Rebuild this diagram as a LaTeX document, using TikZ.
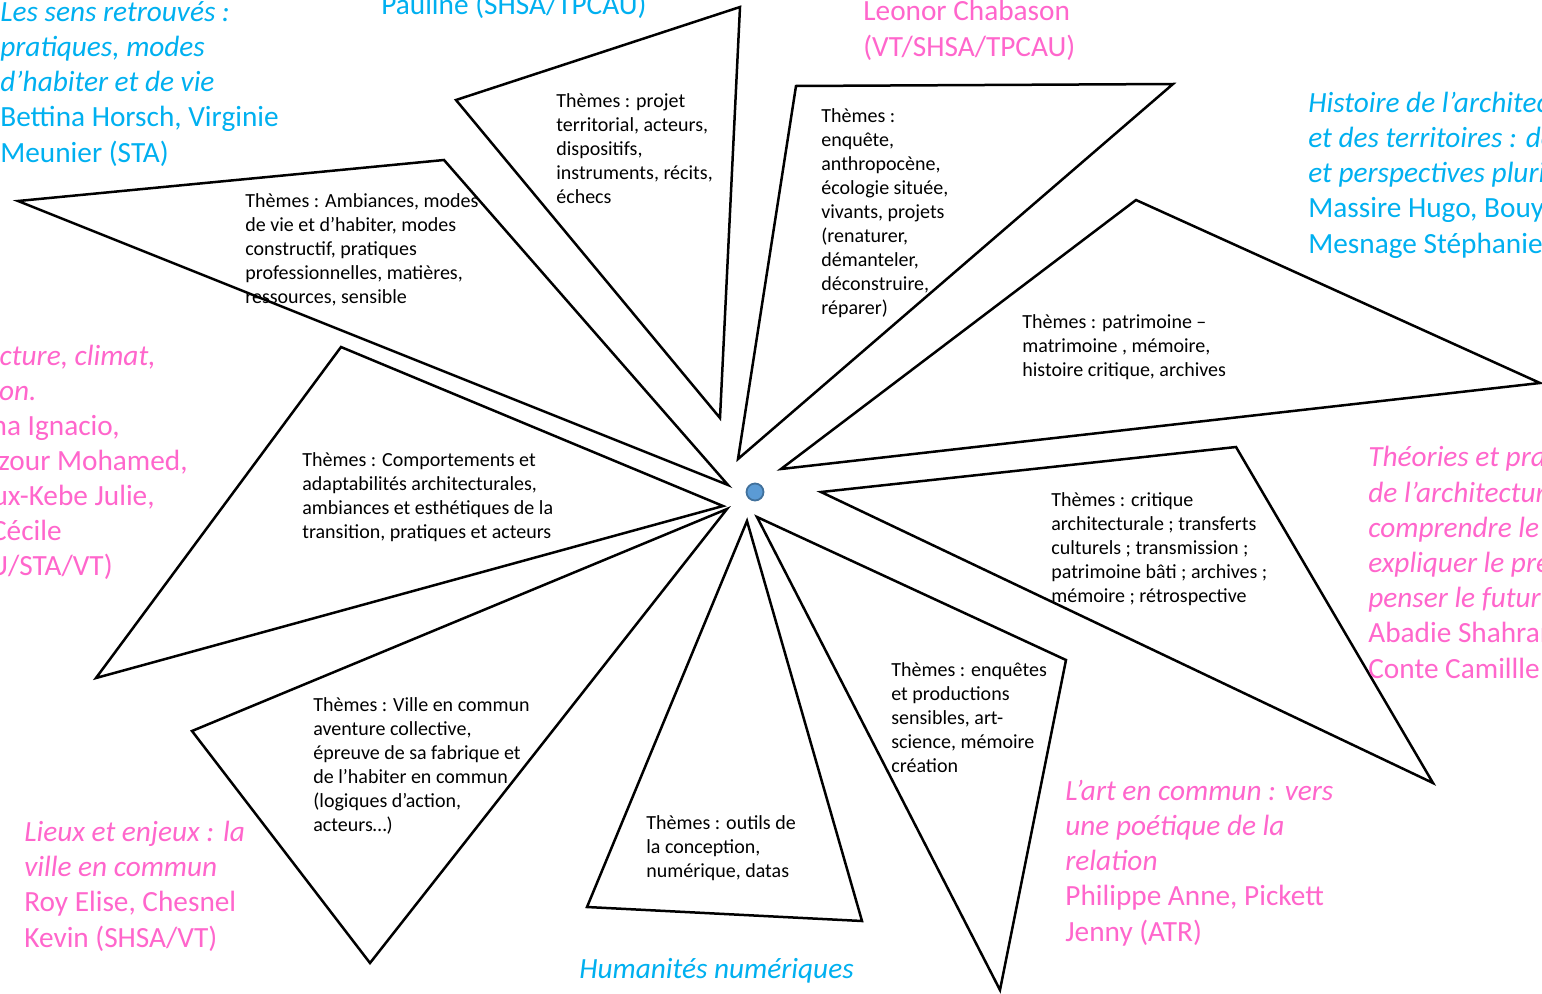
\documentclass[tikz,border=0pt]{standalone}
\usepackage{fontspec}
\setmainfont{Carlito}
\definecolor{cy}{HTML}{00B0F0}
\definecolor{pk}{HTML}{FF66CC}
\definecolor{dotfill}{HTML}{5B9BD5}
\definecolor{dotline}{HTML}{41719C}
\tikzset{
  tri/.style={draw=black, line width=1.4pt, line join=miter},
  theme/.style={anchor=base west, align=left, inner sep=0pt, font=\fontsize{11.2}{13.44}\selectfont},
  big/.style={anchor=base west, align=left, inner sep=0pt, font=\fontsize{16.4}{19.7}\selectfont},
  bigr/.style={anchor=base east, inner sep=0pt, font=\fontsize{16.4}{19.7}\selectfont},
  cytext/.style={text=cy},
  pktext/.style={text=pk},
}
\begin{document}
\begin{tikzpicture}[x=0.56pt, y=-0.56pt]
\useasboundingbox (0,0) rectangle (1542,993);
\clip (0,0) rectangle (1542,993);
\fill[white] (0,0) rectangle (1542,993);

\coordinate (c) at (755,492);

% triangles
\draw[tri] (18,201) -- (444,160) -- (728,485) -- cycle;
\draw[tri] (456,100) -- (740,7) -- (720,418) -- cycle;
\draw[tri] (796,86) -- (1173,84) -- (738,459) -- cycle;
\draw[tri] (1136,200) -- (1540,383) -- (781,469) -- cycle;
\draw[tri] (821,492) -- (1236,447) -- (1433,783) -- cycle;
\draw[tri] (757,517) -- (1066,660) -- (1000,990) -- cycle;
\draw[tri] (747,521) -- (862,921) -- (587,907) -- cycle;
\draw[tri] (192,731) -- (727,509) -- (370,963) -- cycle;
\draw[tri] (341,347) -- (723,506) -- (96,678) -- cycle;

% centre dot
\filldraw[fill=dotfill, draw=dotline, line width=1pt] (c) circle (8.5);

% theme texts (anchored at the baseline of the last line)
\node[theme] (t2) at (556,203) {Thèmes : projet\\territorial, acteurs,\\dispositifs,\\instruments, récits,\\échecs};
\node[theme] (t3) at (821,314) {Thèmes :\\enquête,\\anthropocène,\\écologie située,\\vivants, projets\\(renaturer,\\démanteler,\\déconstruire,\\réparer)};
\node[theme] (t1) at (245,303) {Thèmes : Ambiances, modes\\de vie et d’habiter, modes\\constructif, pratiques\\professionnelles, matières,\\ressources, sensible};
\node[theme] (t4) at (1022,376) {Thèmes : patrimoine –\\matrimoine , mémoire,\\histoire critique, archives};
\node[theme] (t9) at (302,538) {Thèmes : Comportements et\\adaptabilités architecturales,\\ambiances et esthétiques de la\\transition, pratiques et acteurs};
\node[theme] (t5) at (1051,602) {Thèmes : critique\\architecturale ; transferts\\culturels ; transmission ;\\patrimoine bâti ; archives ;\\mémoire ; rétrospective};
\node[theme] (t6) at (891,772) {Thèmes : enquêtes\\et productions\\sensibles, art-\\science, mémoire\\création};
\node[theme] (t8) at (313,831) {Thèmes : Ville en commun\\aventure collective,\\épreuve de sa fabrique et\\de l’habiter en commun\\(logiques d’action,\\acteurs…)};
\node[theme] (t7) at (646,877) {Thèmes : outils de\\la conception,\\numérique, datas};

% group labels (anchored at the baseline of the last line)
\node[big, cytext] (g1) at (0,162) {\textit{Les sens retrouvés :}\\\textit{pratiques, modes}\\\textit{d’habiter et de vie}\\Bettina Horsch, Virginie\\Meunier (STA)};
\node[big, cytext] (g2) at (381,14) {Pauline (SHSA/TPCAU)};
\node[big, pktext] (g3) at (863,56) {Leonor Chabason\\(VT/SHSA/TPCAU)};
\node[big, cytext] (g4) at (1308,253) {\textit{Histoire de l’architect}\\\textit{et des territoires : de}\\\textit{et perspectives pluri}\\Massire Hugo, Bouy\\Mesnage Stéphanie};
\node[big, pktext] (g5) at (1368,678) {\textit{Théories et prat}\\\textit{de l’architecture}\\\textit{comprendre le}\\\textit{expliquer le pre}\\\textit{penser le futur}\\Abadie Shahram\\Conte Camillle};
\node[big, pktext] (g6) at (24,947) {\textit{Lieux et enjeux : la}\\\textit{ville en commun}\\Roy Elise, Chesnel\\Kevin (SHSA/VT)};
\node[big, cytext] (g7) at (579,978) {\textit{Humanités numériques}};
\node[big, pktext] (g8) at (1065,941) {\textit{L’art en commun : vers}\\\textit{une poétique de la}\\\textit{relation}\\Philippe Anne, Pickett\\Jenny (ATR)};

% left label, clipped lines
\node[bigr, pktext] (l1) at (156,365) {\textit{cture, climat,}};
\node[bigr, pktext] (l2) at (37,400) {\textit{ion.}};
\node[bigr, pktext] (l3) at (120,435) {na Ignacio,};
\node[bigr, pktext] (l4) at (188,470) {zour Mohamed,};
\node[bigr, pktext] (l5) at (155,505) {ux-Kebe Julie,};
\node[bigr, pktext] (l6) at (62,540) {Cécile};
\node[bigr, pktext] (l7) at (113,575) {U/STA/VT)};
\end{tikzpicture}
\end{document}
